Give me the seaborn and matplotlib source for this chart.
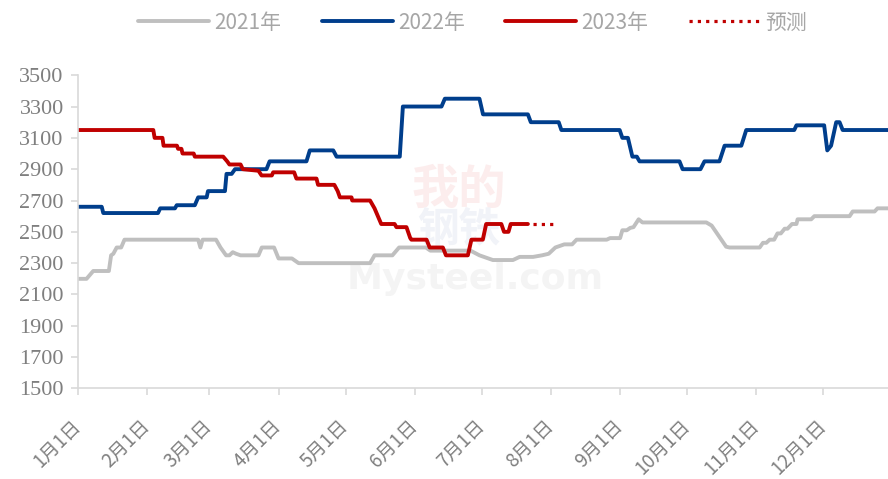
import matplotlib
matplotlib.use("Agg")
import matplotlib.pyplot as plt
import pandas as pd
import seaborn as sns

# day-of-year (0 = Jan 1) and price
days_2021 = [0, 4, 7, 14, 15, 16, 17.5, 19.5, 21, 54, 55, 56, 62, 64, 66.5, 68, 69.5, 71, 73, 81,
             82.5, 88, 90, 96, 99, 131, 133, 141, 144, 156, 158, 176, 180, 186, 195, 198, 204,
             208, 211, 214, 218, 221.5, 223.5, 237, 238.5, 243, 244, 246, 247.5, 249, 251.3, 253,
             281.6, 284, 290.5, 292, 305.5, 307, 308.5, 310, 312, 313.5, 315, 316.7, 318, 320,
             322, 322.5, 328.6, 330, 345.8, 347.2, 357, 358.3, 363]
price_2021 = [2200, 2200, 2250, 2250, 2350, 2360, 2400, 2400, 2450, 2450, 2400, 2450, 2450, 2400,
              2350, 2350, 2370, 2360, 2350, 2350, 2400, 2400, 2330, 2330, 2300, 2300, 2350, 2350,
              2400, 2400, 2380, 2380, 2350, 2320, 2320, 2340, 2340, 2350, 2360, 2400, 2420, 2420,
              2450, 2450, 2460, 2460, 2510, 2510, 2525, 2530, 2580, 2560, 2560, 2540, 2405, 2400,
              2400, 2430, 2430, 2450, 2450, 2490, 2490, 2520, 2520, 2550, 2550, 2580, 2580, 2600,
              2600, 2630, 2630, 2650, 2650]

days_2022 = [0, 10.8, 11.5, 36, 37, 43.6, 44.4, 52.5, 54, 57.8, 58.4, 66, 66.7, 69, 70.5, 84.6,
             86, 102.5, 104, 114.5, 116, 144.3, 145.7, 163, 164.5, 180, 181.6, 201.7, 203, 215.5,
             216.7, 242.8, 244, 246.5, 247.5, 248.5, 250.5, 251.7, 269.6, 271, 279, 280.8, 287.5,
             289.8, 297.3, 299.5, 321, 322, 334.4, 335.8, 337.5, 339.8, 341.3, 342.7, 363]
price_2022 = [2660, 2660, 2620, 2620, 2650, 2650, 2670, 2670, 2720, 2720, 2760, 2760, 2870, 2870,
              2900, 2900, 2950, 2950, 3020, 3020, 2980, 2980, 3300, 3300, 3350, 3350, 3250, 3250,
              3200, 3200, 3150, 3150, 3100, 3100, 3040, 2980, 2980, 2950, 2950, 2900, 2900, 2950,
              2950, 3050, 3050, 3150, 3150, 3180, 3180, 3020, 3050, 3200, 3200, 3150, 3150]

days_2023 = [0, 33.9, 34.5, 38, 38.5, 44.5, 45, 46.5, 47, 52, 52.5, 65.2, 67, 68, 73, 74, 81,
             82.4, 87, 87.6, 97, 98, 107, 107.7, 115, 116.5, 117.5, 122.7, 123, 131, 133, 134.5,
             136, 142, 142.8, 147.3, 149, 149.5, 156.3, 157.7, 163.6, 165, 174.8, 176.4, 181.5,
             183, 189.8, 191, 193, 194, 201.7]
price_2023 = [3150, 3150, 3100, 3100, 3050, 3050, 3030, 3030, 3000, 3000, 2980, 2980, 2950, 2930,
              2930, 2900, 2890, 2860, 2860, 2880, 2880, 2840, 2840, 2800, 2800, 2760, 2720, 2720,
              2700, 2700, 2650, 2600, 2550, 2550, 2530, 2530, 2460, 2450, 2450, 2400, 2400, 2350,
              2350, 2450, 2450, 2550, 2550, 2500, 2500, 2550, 2550]

days_fcst = [204, 214]
price_fcst = [2550, 2550]

month_days = [0, 31, 59, 90, 120, 151, 181, 212, 243, 273, 304, 334]
month_labels = [f"{m}月1日" for m in range(1, 13)]
y_ticks = list(range(1500, 3501, 200))

sns.set_style("white")
plt.rcParams['font.family'] = ['Noto Sans CJK SC', 'DejaVu Sans']

fig = plt.figure(figsize=(8.88, 4.79), dpi=100)
ax = fig.add_axes([0.0874, 0.189, 0.9126, 0.654])

c21, c22, c23 = "#BFBFBF", "#003E8C", "#C00000"
lw = 2.8

sns.lineplot(data=pd.DataFrame({"d": days_2021, "p": price_2021}), x="d", y="p",
             color=c21, lw=lw, estimator=None, sort=False, ax=ax, label="2021年")
sns.lineplot(data=pd.DataFrame({"d": days_2022, "p": price_2022}), x="d", y="p",
             color=c22, lw=lw, estimator=None, sort=False, ax=ax, label="2022年")
sns.lineplot(data=pd.DataFrame({"d": days_2023, "p": price_2023}), x="d", y="p",
             color=c23, lw=lw, estimator=None, sort=False, ax=ax, label="2023年")
sns.lineplot(data=pd.DataFrame({"d": days_fcst, "p": price_fcst}), x="d", y="p",
             color=c23, lw=2.3, estimator=None, sort=False, ax=ax, label="预测",
             linestyle=(0, (1, 1.6)))

# faint watermark
ax.text(0.47, 0.635, "我的", transform=ax.transAxes, fontsize=34, color="#FCEDED",
        ha="center", va="center", zorder=0, fontweight="bold")
ax.text(0.47, 0.505, "钢铁", transform=ax.transAxes, fontsize=30, color="#F1F3F8",
        ha="center", va="center", zorder=0, fontweight="bold")
ax.text(0.49, 0.35, "Mysteel.com", transform=ax.transAxes, fontsize=26, color="#F4F4F4",
        ha="center", va="center", zorder=0, fontweight="bold", family="DejaVu Sans")

ax.set_xlim(0, 363)
ax.set_ylim(1500, 3500)
ax.set_xlabel("")
ax.set_ylabel("")
ax.get_legend().remove()
ax.set_yticks(y_ticks)
ax.set_xticks(month_days)
ax.set_xticklabels(month_labels, rotation=45, ha="right", va="center",
                   rotation_mode="anchor", fontsize=13.5, color="#7F7F7F")
for t in ax.get_yticklabels():
    t.set_fontfamily("Liberation Serif")
    t.set_fontsize(16)
    t.set_color("#7F7F7F")

for s in ["top", "right"]:
    ax.spines[s].set_visible(False)
for s in ["left", "bottom"]:
    ax.spines[s].set_color("#D9D9D9")
    ax.spines[s].set_linewidth(1.2)
ax.tick_params(axis="both", which="both", direction="out", length=5, width=1.2,
               color="#D9D9D9", left=True, bottom=True)
ax.tick_params(axis="y", pad=5)
ax.tick_params(axis="x", pad=20)

h, l = ax.get_legend_handles_labels()
fig.legend(h, l, loc="upper center", bbox_to_anchor=(0.532, 1.015), ncol=4, frameon=False,
           fontsize=15, handlelength=3.4, handletextpad=0.25, columnspacing=1.95,
           labelcolor="#A6A6A6")

fig.savefig("out.png", dpi=100)
